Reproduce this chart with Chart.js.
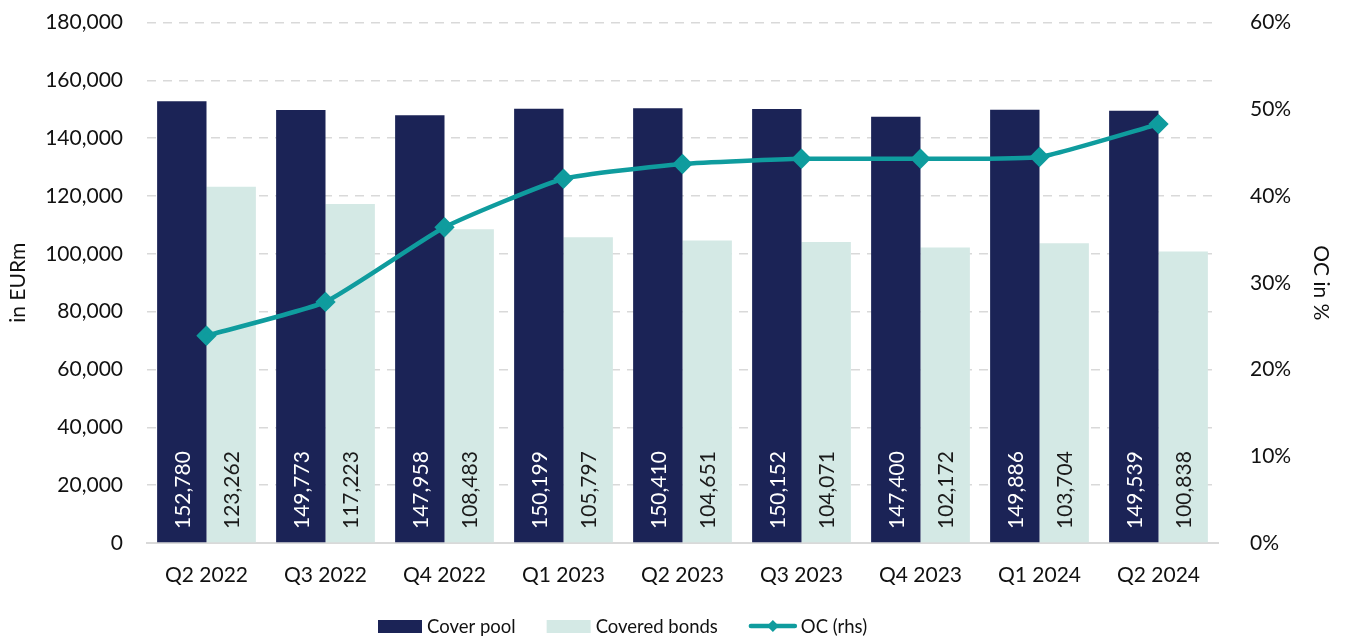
<!DOCTYPE html>
<html>
<head>
<meta charset="utf-8">
<script src="https://cdn.jsdelivr.net/npm/chart.js@4.4.1/dist/chart.umd.min.js"></script>
<style>
  html, body { margin: 0; padding: 0; background: #fff; overflow: hidden; }
  #wrap { width: 1349px; height: 661px; margin-top: -22px; position: relative; }
</style>
</head>
<body>
<div id="wrap"><canvas id="chart"></canvas></div>
<script>
// data
var quarters = ['Q2 2022','Q3 2022','Q4 2022','Q1 2023','Q2 2023','Q3 2023','Q4 2023','Q1 2024','Q2 2024'];
var coverPool = [152780, 149773, 147958, 150199, 150410, 150152, 147400, 149886, 149539];
var coveredBonds = [123262, 117223, 108483, 105797, 104651, 104071, 102172, 103704, 100838];
var ocRatio = [0.239, 0.278, 0.364, 0.420, 0.437, 0.443, 0.443, 0.445, 0.483];

var NAVY = '#1b2356', MINT = '#d4e9e5', TEAL = '#0f9c9e';
var FONT = 'Lato, "Open Sans", sans-serif';

function fmt(v){ return v.toLocaleString('en-US'); }

// value labels written vertically inside the bars
var barLabels = {
    id: 'barLabels',
    afterDatasetsDraw: function(chart){
        var ctx = chart.ctx;
        var bottom = chart.chartArea.bottom;
        [1,2].forEach(function(di){
            var meta = chart.getDatasetMeta(di);
            meta.data.forEach(function(bar, i){
                ctx.save();
                ctx.translate(bar.x, bottom - 14);
                ctx.rotate(-Math.PI/2);
                ctx.font = '21px ' + FONT;
                ctx.fillStyle = di === 1 ? '#ffffff' : '#1a1a1a';
                ctx.textAlign = 'left';
                ctx.textBaseline = 'middle';
                ctx.fillText(fmt(chart.data.datasets[di].data[i]), 0, 1);
                ctx.restore();
            });
        });
    }
};

// legend drawn by hand below the x axis
var bottomLegend = {
    id: 'bottomLegend',
    afterDraw: function(chart){
        var ctx = chart.ctx;
        var y = chart.chartArea.bottom + 83;
        var x = 378;
        ctx.save();
        ctx.font = '18.5px ' + FONT;
        ctx.textBaseline = 'middle';
        [1, 2, 0].forEach(function(di){
            var ds = chart.data.datasets[di];
            if (ds.type === 'bar') {
                ctx.fillStyle = ds.backgroundColor;
                ctx.fillRect(x, y - 6, 44, 13);
                x += 49;
            } else {
                ctx.strokeStyle = ds.borderColor;
                ctx.lineWidth = 4.5;
                ctx.lineCap = 'round';
                ctx.beginPath(); ctx.moveTo(x + 2, y); ctx.lineTo(x + 46, y); ctx.stroke();
                ctx.fillStyle = ds.borderColor;
                ctx.beginPath();
                ctx.moveTo(x + 24, y - 6); ctx.lineTo(x + 30, y); ctx.lineTo(x + 24, y + 6); ctx.lineTo(x + 18, y);
                ctx.closePath(); ctx.fill();
                x += 52;
            }
            ctx.fillStyle = '#111';
            ctx.fillText(ds.label, x, y + 1);
            x += ctx.measureText(ds.label).width + 31;
        });
        ctx.restore();
    }
};

var ctx = document.getElementById('chart').getContext('2d');
var chart = new Chart(ctx, {
    data: {
        labels: quarters,
        datasets: [
            {
                type: 'line',
                label: 'OC (rhs)',
                data: ocRatio,
                yAxisID: 'y1',
                borderColor: TEAL,
                backgroundColor: TEAL,
                borderWidth: 4.5,
                pointStyle: 'rectRot',
                pointRadius: 7,
                pointHoverRadius: 7,
                pointBackgroundColor: TEAL,
                pointBorderColor: TEAL,
                tension: 0.15,
                order: 0
            },
            {
                type: 'bar',
                label: 'Cover pool',
                data: coverPool,
                backgroundColor: NAVY,
                yAxisID: 'y',
                categoryPercentage: 0.83,
                barPercentage: 1.0,
                order: 1
            },
            {
                type: 'bar',
                label: 'Covered bonds',
                data: coveredBonds,
                backgroundColor: MINT,
                yAxisID: 'y',
                categoryPercentage: 0.83,
                barPercentage: 1.0,
                order: 2
            }
        ]
    },
    options: {
        responsive: true,
        maintainAspectRatio: false,
        animation: false,
        layout: { padding: { top: 0, bottom: 33 } },
        plugins: {
            tooltip: { enabled: false },
            legend: { display: false }
        },
        scales: {
            x: {
                grid: { display: false, drawTicks: false },
                border: { color: '#d9d9d9', width: 2 },
                ticks: { color: '#111', font: { family: FONT, size: 21 }, padding: 20 },
                afterFit: function(s){ s.height = 63; }
            },
            y: {
                position: 'left',
                min: 0, max: 180000,
                ticks: {
                    stepSize: 20000,
                    color: '#111',
                    padding: 24,
                    font: { family: FONT, size: 21 },
                    callback: function(v){ return fmt(v); }
                },
                grid: { color: '#d9d9d9', lineWidth: 1.5, drawTicks: false },
                border: { display: false, dash: [9, 7] },
                title: { display: true, text: 'in EURm', color: '#111', font: { family: FONT, size: 21 }, padding: { top: 6, bottom: 0 } },
                afterFit: function(s){ s.width = 147; }
            },
            y1: {
                position: 'right',
                min: 0, max: 0.6,
                ticks: {
                    stepSize: 0.1,
                    color: '#111',
                    padding: 32,
                    font: { family: FONT, size: 21 },
                    callback: function(v){ return Math.round(v * 100) + '%'; }
                },
                grid: { display: false, drawTicks: false },
                border: { display: false },
                title: { display: true, text: 'OC in %', color: '#111', font: { family: FONT, size: 21 }, padding: { top: 16, bottom: 0 } },
                afterFit: function(s){ s.width = 131; }
            }
        }
    },
    plugins: [barLabels, bottomLegend]
});
</script>
</body>
</html>
